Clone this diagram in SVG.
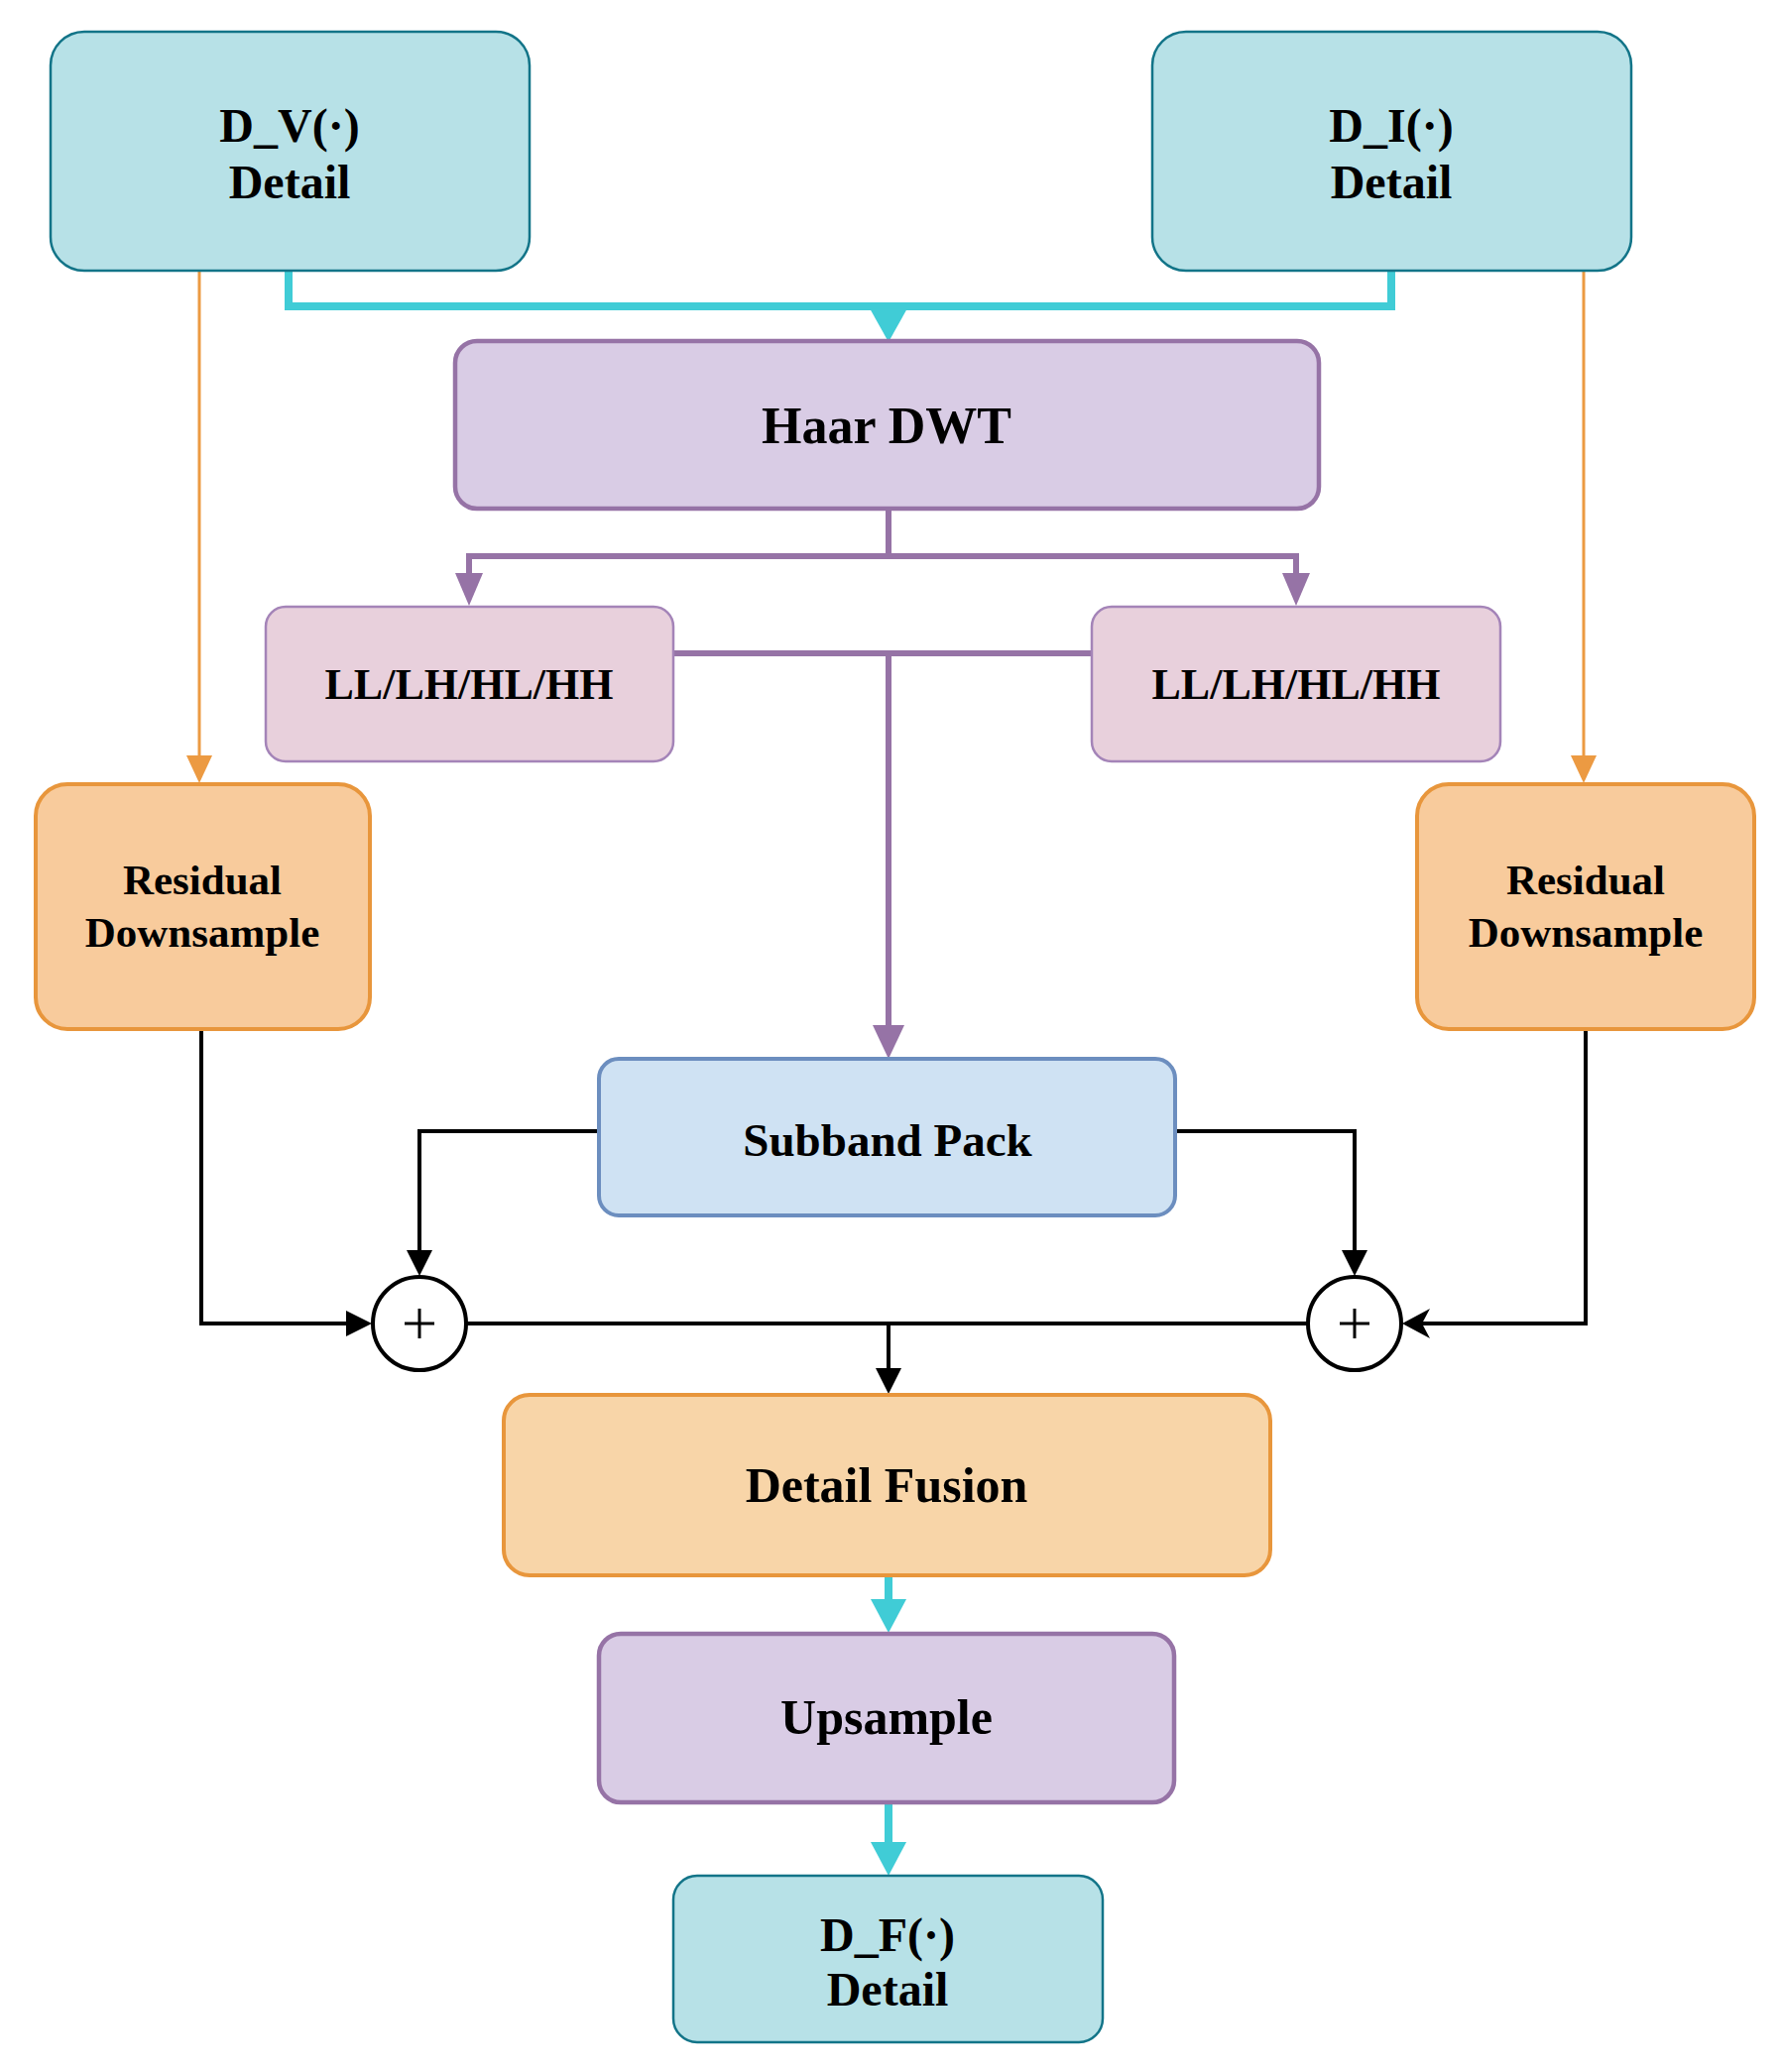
<svg xmlns="http://www.w3.org/2000/svg" width="1796" height="2090" viewBox="0 0 1796 2090">
<style>
.t{font-family:"Liberation Serif","Times New Roman",serif;font-weight:bold;fill:#000;text-anchor:middle}
.teal{fill:#B7E1E7;stroke:#127488;stroke-width:2.5}
.purp{fill:#D9CCE5;stroke:#9673A6;stroke-width:4.5}
.pink{fill:#E8D0DC;stroke:#A484B8;stroke-width:2.5}
.org{fill:#F8CB9C;stroke:#E8963C;stroke-width:4}
.org2{fill:#F8D5A8;stroke:#E8963C;stroke-width:4}
.blue{fill:#CFE2F3;stroke:#6C8EBF;stroke-width:4}
.cy{stroke:#40CCD6;stroke-width:8;fill:none}
.pl{stroke:#9673A6;stroke-width:6;fill:none}
.ol{stroke:#EC9A42;stroke-width:3;fill:none}
.bl{stroke:#000;stroke-width:4;fill:none}
</style>
<rect width="1796" height="2090" fill="#fff"/>
<g id="connectors">
  <path class="cy" d="M291,273 V309 H1403 V273"/>
  <polygon fill="#40CCD6" points="877,311 915,311 896,345"/>
  <path class="pl" d="M896,513 V561 H473 V580 M896,561 H1307 V580"/>
  <polygon fill="#9673A6" points="459,578 487,578 473,611"/>
  <polygon fill="#9673A6" points="1293,578 1321,578 1307,611"/>
  <path class="pl" d="M679,659 H1101 M896,659 V1036"/>
  <polygon fill="#9673A6" points="880,1034 912,1034 896,1068"/>
  <path class="ol" d="M201,273 V764 M1597,273 V764"/>
  <polygon fill="#EC9A42" points="188,762 214,762 201,790"/>
  <polygon fill="#EC9A42" points="1584,762 1610,762 1597,790"/>
  <path class="bl" d="M604,1141 H423 V1263 M1185,1141 H1366 V1263"/>
  <polygon points="410,1261 436,1261 423,1287"/>
  <polygon points="1353,1261 1379,1261 1366,1287"/>
  <path class="bl" d="M203,1038 V1335 H352"/>
  <polygon points="349,1322 349,1348 375,1335"/>
  <path class="bl" d="M1599,1038 V1335 H1432"/>
  <polygon points="1414,1335 1442,1320 1434,1335 1442,1350"/>
  <path class="bl" d="M471,1335 H1318 M896,1335 V1382"/>
  <polygon points="883,1380 909,1380 896,1406"/>
  <path class="cy" d="M896,1589 V1615 M896,1818 V1860"/>
  <polygon fill="#40CCD6" points="878,1613 914,1613 896,1647"/>
  <polygon fill="#40CCD6" points="878,1858 914,1858 896,1892"/>
</g>
<g id="dv">
  <rect class="teal" x="51" y="32" width="483" height="241" rx="34"/>
  <text class="t" x="292" y="143" font-size="48">D_V(·)</text>
  <text class="t" x="292" y="200" font-size="48">Detail</text>
</g>
<g id="di">
  <rect class="teal" x="1162" y="32" width="483" height="241" rx="34"/>
  <text class="t" x="1403" y="143" font-size="48">D_I(·)</text>
  <text class="t" x="1403" y="200" font-size="48">Detail</text>
</g>
<g id="haar">
  <rect class="purp" x="459" y="344" width="871" height="169" rx="22"/>
  <text class="t" x="894" y="447" font-size="52">Haar DWT</text>
</g>
<g id="ll1">
  <rect class="pink" x="268" y="612" width="411" height="156" rx="20"/>
  <text class="t" x="473" y="705" font-size="44">LL/LH/HL/HH</text>
</g>
<g id="ll2">
  <rect class="pink" x="1101" y="612" width="412" height="156" rx="20"/>
  <text class="t" x="1307" y="705" font-size="44">LL/LH/HL/HH</text>
</g>
<g id="rd1">
  <rect class="org" x="36" y="791" width="337" height="247" rx="32"/>
  <text class="t" x="204" y="902" font-size="43">Residual</text>
  <text class="t" x="204" y="955" font-size="43">Downsample</text>
</g>
<g id="rd2">
  <rect class="org" x="1429" y="791" width="340" height="247" rx="32"/>
  <text class="t" x="1599" y="902" font-size="43">Residual</text>
  <text class="t" x="1599" y="955" font-size="43">Downsample</text>
</g>
<g id="subband">
  <rect class="blue" x="604" y="1068" width="581" height="158" rx="20"/>
  <text class="t" x="895" y="1166" font-size="47">Subband Pack</text>
</g>
<g id="sum1">
  <circle cx="423" cy="1335" r="47" fill="#fff" stroke="#000" stroke-width="4"/>
  <path d="M408,1335 H438 M423,1320 V1350" stroke="#000" stroke-width="3"/>
</g>
<g id="sum2">
  <circle cx="1366" cy="1335" r="47" fill="#fff" stroke="#000" stroke-width="4"/>
  <path d="M1351,1335 H1381 M1366,1320 V1350" stroke="#000" stroke-width="3"/>
</g>
<g id="fusion">
  <rect class="org2" x="508" y="1407" width="773" height="182" rx="26"/>
  <text class="t" x="894" y="1515" font-size="50">Detail Fusion</text>
</g>
<g id="upsample">
  <rect class="purp" x="604" y="1648" width="580" height="170" rx="22"/>
  <text class="t" x="894" y="1749" font-size="50">Upsample</text>
</g>
<g id="df">
  <rect class="teal" x="679" y="1892" width="433" height="168" rx="24"/>
  <text class="t" x="895" y="1968" font-size="48">D_F(·)</text>
  <text class="t" x="895" y="2023" font-size="48">Detail</text>
</g>
</svg>
